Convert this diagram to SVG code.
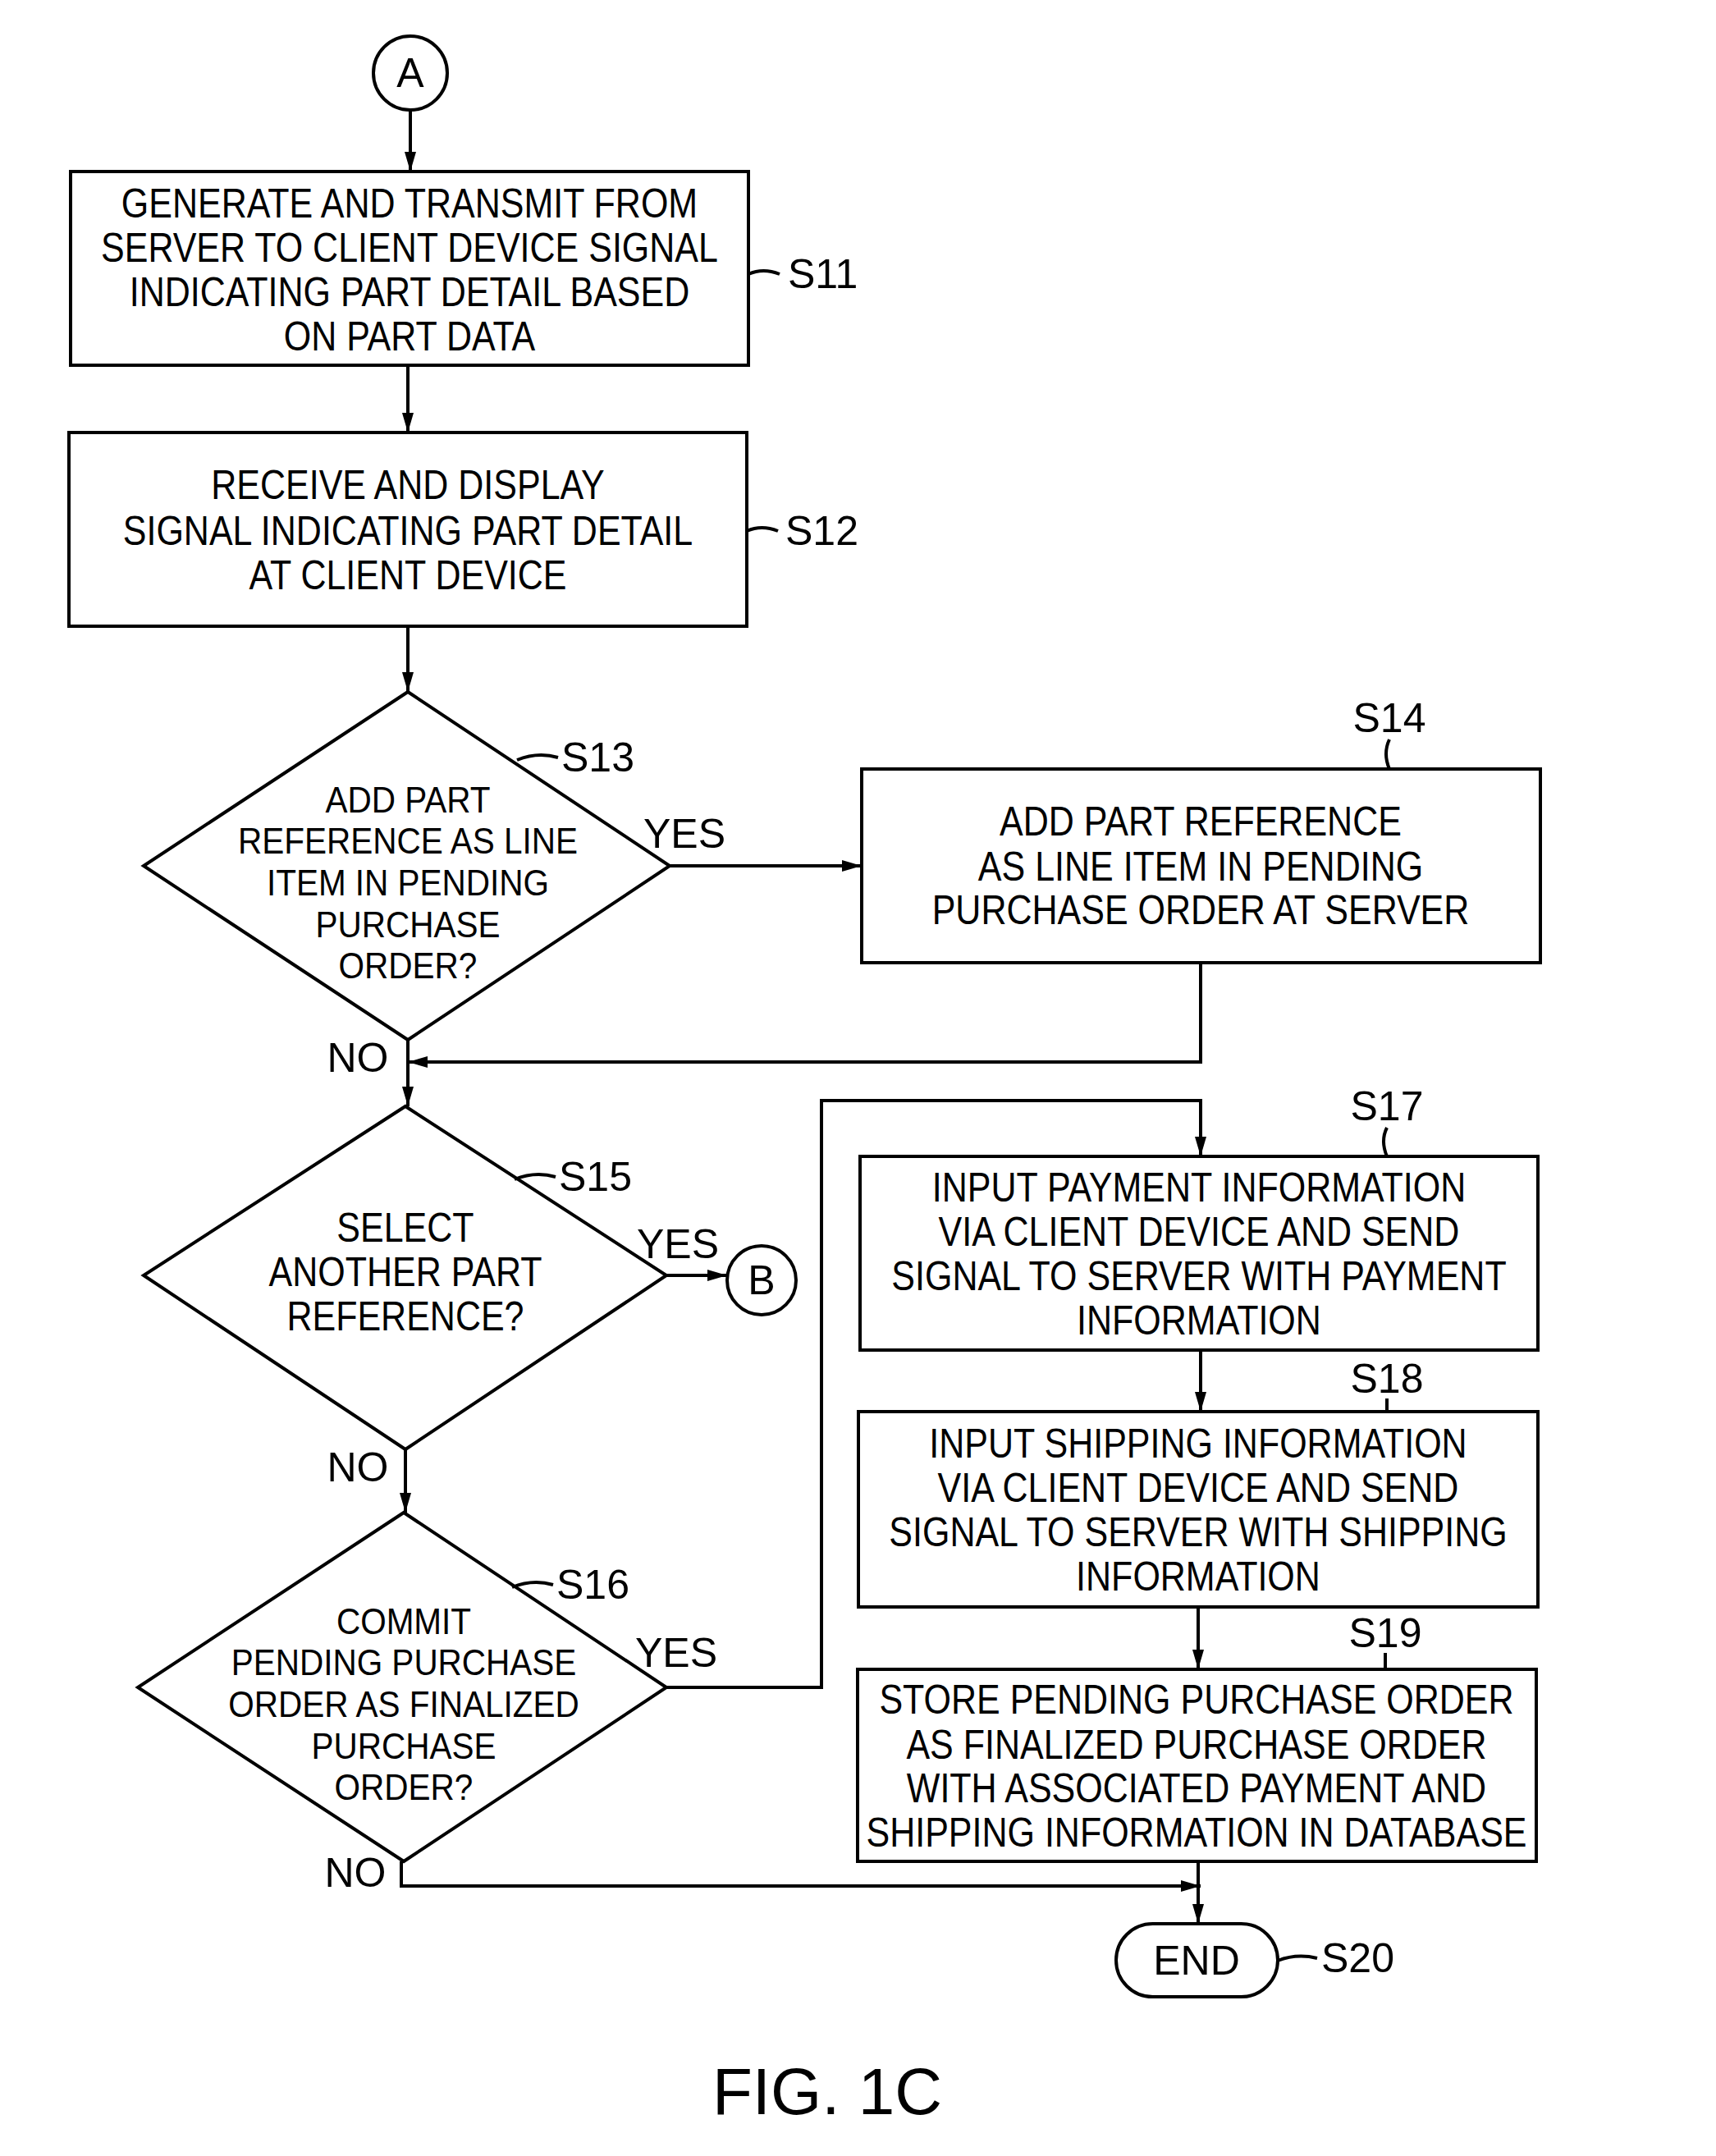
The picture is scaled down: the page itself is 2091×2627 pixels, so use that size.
<svg xmlns="http://www.w3.org/2000/svg" width="2091" height="2627" viewBox="0 0 2091 2627">
<style>
.s{fill:none;stroke:#000;stroke-width:4}
.f{fill:#fff;stroke:#000;stroke-width:4}
text{font-family:"Liberation Sans",Arial,sans-serif;font-size:50px;fill:#000;text-anchor:middle;dominant-baseline:central}
.l{text-anchor:start}
.d text{font-size:45px}
</style>
<defs><marker id="b" markerWidth="24" markerHeight="14" refX="24" refY="7" orient="auto" markerUnits="userSpaceOnUse"><path d="M0,0L24,7L0,14z" fill="#000"/></marker></defs>
<g id="connectors" class="s">
<path d="M500,134V209" marker-end="url(#b)"/>
<path d="M497,445V527" marker-end="url(#b)"/>
<path d="M497,763V843" marker-end="url(#b)"/>
<path d="M816,1055H1050" marker-end="url(#b)"/>
<path d="M1463,1173V1294H497" marker-end="url(#b)"/>
<path d="M497,1267V1348" marker-end="url(#b)"/>
<path d="M812,1554H886" marker-end="url(#b)"/>
<path d="M494,1766V1843" marker-end="url(#b)"/>
<path d="M812,2056H1001V1341H1463V1409" marker-end="url(#b)"/>
<path d="M1463,1645V1720" marker-end="url(#b)"/>
<path d="M1460,1958V2034" marker-end="url(#b)"/>
<path d="M489,2268V2298H1463" marker-end="url(#b)"/>
<path d="M1460,2268V2344" marker-end="url(#b)"/>
</g>
<g id="A"><circle class="f" cx="500" cy="89" r="45"/><text x="500" y="89">A</text></g>
<g id="S11"><rect class="f" x="86" y="209" width="826" height="236"/>
<g transform="matrix(0.86,0,0,1,69.86,0)"><text x="499" y="248">GENERATE AND TRANSMIT FROM</text><text x="499" y="302">SERVER TO CLIENT DEVICE SIGNAL</text><text x="499" y="356">INDICATING PART DETAIL BASED</text><text x="499" y="410">ON PART DATA</text></g>
<path class="s" d="M912,334Q930,326 950,334"/><text class="l" x="960" y="334">S11</text></g>
<g id="S12"><rect class="f" x="84" y="527" width="826" height="236"/>
<g transform="matrix(0.86,0,0,1,69.58,0)"><text x="497" y="591">RECEIVE AND DISPLAY</text><text x="497" y="647">SIGNAL INDICATING PART DETAIL</text><text x="497" y="701">AT CLIENT DEVICE</text></g>
<path class="s" d="M910,647Q928,639 948,647"/><text class="l" x="957" y="647">S12</text></g>
<g id="S13"><path class="f" d="M497,843L816,1055L497,1267L175,1055Z"/>
<g class="d" transform="matrix(0.9,0,0,1,49.7,0)"><text x="497" y="974">ADD PART</text><text x="497" y="1024">REFERENCE AS LINE</text><text x="497" y="1075">ITEM IN PENDING</text><text x="497" y="1126">PURCHASE</text><text x="497" y="1176">ORDER?</text></g>
<path class="s" d="M630,926Q655,916 680,923"/><text class="l" x="684" y="923">S13</text>
<text x="834" y="1016">YES</text><text x="436" y="1289">NO</text></g>
<g id="S14"><rect class="f" x="1050" y="937" width="827" height="236"/>
<g transform="matrix(0.86,0,0,1,204.82,0)"><text x="1463" y="1001">ADD PART REFERENCE</text><text x="1463" y="1056">AS LINE ITEM IN PENDING</text><text x="1463" y="1109">PURCHASE ORDER AT SERVER</text></g>
<path class="s" d="M1693,937Q1685,918 1693,901"/><text x="1693" y="875">S14</text></g>
<g id="S15"><path class="f" d="M494,1348L812,1554L494,1766L175,1554Z"/>
<g transform="matrix(0.86,0,0,1,69.16,0)"><text x="494" y="1496">SELECT</text><text x="494" y="1550">ANOTHER PART</text><text x="494" y="1604">REFERENCE?</text></g>
<path class="s" d="M627,1437Q652,1427 677,1434"/><text class="l" x="681" y="1434">S15</text>
<text x="826" y="1516">YES</text><text x="436" y="1788">NO</text></g>
<g id="B"><circle class="f" cx="928" cy="1560" r="42"/><text x="928" y="1560">B</text></g>
<g id="S16"><path class="f" d="M492,1843L812,2056L492,2268L168,2056Z"/>
<g class="d" transform="matrix(0.9,0,0,1,49.2,0)"><text x="492" y="1975">COMMIT</text><text x="492" y="2025">PENDING PURCHASE</text><text x="492" y="2076">ORDER AS FINALIZED</text><text x="492" y="2127">PURCHASE</text><text x="492" y="2177">ORDER?</text></g>
<path class="s" d="M624,1934Q649,1924 674,1931"/><text class="l" x="678" y="1931">S16</text>
<text x="824" y="2014">YES</text><text x="433" y="2282">NO</text></g>
<g id="S17"><rect class="f" x="1048" y="1409" width="826" height="236"/>
<g transform="matrix(0.86,0,0,1,204.54,0)"><text x="1461" y="1447">INPUT PAYMENT INFORMATION</text><text x="1461" y="1501">VIA CLIENT DEVICE AND SEND</text><text x="1461" y="1555">SIGNAL TO SERVER WITH PAYMENT</text><text x="1461" y="1609">INFORMATION</text></g>
<path class="s" d="M1690,1409Q1682,1390 1690,1374"/><text x="1690" y="1348">S17</text></g>
<g id="S18"><rect class="f" x="1046" y="1720" width="828" height="238"/>
<g transform="matrix(0.86,0,0,1,204.4,0)"><text x="1460" y="1759">INPUT SHIPPING INFORMATION</text><text x="1460" y="1813">VIA CLIENT DEVICE AND SEND</text><text x="1460" y="1867">SIGNAL TO SERVER WITH SHIPPING</text><text x="1460" y="1921">INFORMATION</text></g>
<path class="s" d="M1690,1720V1704"/><text x="1690" y="1680">S18</text></g>
<g id="S19"><rect class="f" x="1045" y="2034" width="827" height="234"/>
<g transform="matrix(0.86,0,0,1,204.12,0)"><text x="1458" y="2071">STORE PENDING PURCHASE ORDER</text><text x="1458" y="2126">AS FINALIZED PURCHASE ORDER</text><text x="1458" y="2179">WITH ASSOCIATED PAYMENT AND</text><text x="1458" y="2233">SHIPPING INFORMATION IN DATABASE</text></g>
<path class="s" d="M1688,2034V2014"/><text x="1688" y="1990">S19</text></g>
<g id="S20"><rect class="f" x="1360" y="2344" width="197" height="89" rx="44.5"/><text x="1458" y="2389">END</text>
<path class="s" d="M1557,2389Q1580,2380 1605,2386"/><text class="l" x="1610" y="2386">S20</text></g>
<text x="1008" y="2548" style="font-size:80px">FIG. 1C</text>
</svg>
